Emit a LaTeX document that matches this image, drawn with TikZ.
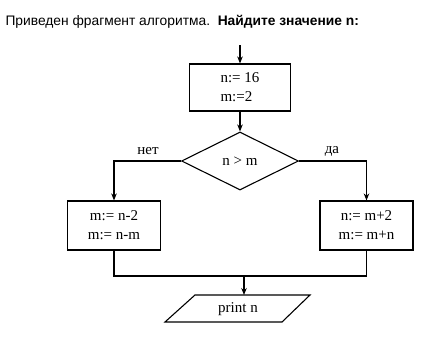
\documentclass[tikz,border=0pt]{standalone}
\usepackage{fontspec}
\setmainfont{Liberation Serif}
\newfontfamily\titlefont{Liberation Sans}
\usetikzlibrary{shapes.geometric,arrows.meta}
\begin{document}
\begin{tikzpicture}[x=1pt,y=-1pt,
  line width=1.1pt,
  arr/.style={-{Stealth[length=7pt,width=5.5pt]}},
  box/.style={draw, minimum width=93pt, minimum height=49pt, inner sep=0pt, font=\fontsize{15}{19}\selectfont, align=center},
  lbl/.style={font=\fontsize{15}{17}\selectfont, inner sep=0pt}]
\useasboundingbox (0,0) rectangle (423,340);
\fill[white] (0,0) rectangle (423,340);
\node[anchor=base west, font=\titlefont\fontsize{13.8}{15}\selectfont, inner sep=0pt] (title) at (5,25) {Приведен фрагмент алгоритма.\ \ \textbf{Найдите значение n:}};
\coordinate (start) at (240,45);
\node[box, align=left, minimum width=101pt, minimum height=47pt] (init) at (240,87.5) {n:= 16\\m:=2};
\node[draw, diamond, aspect=2, minimum width=117pt, minimum height=58pt, inner sep=0pt, font=\fontsize{15}{17}\selectfont] (cond) at (240,161) {n > m};
\node[box] (no) at (114,225.5) {m:= n-2\\m:= n-m};
\node[box] (yes) at (366.5,225.5) {n:= m+2\\m:= m+n};
\node[lbl] (nolbl) at (148,151) {нет};
\node[lbl] (yeslbl) at (332,151) {да};
\coordinate (m) at (244,276);
\coordinate (p1) at (165,322);
\coordinate (p2) at (195,295);
\coordinate (p3) at (310,295);
\coordinate (p4) at (282,322);
\coordinate (outtop) at (244,295);
\node[lbl] (out) at (238,309) {print n};
\draw (p1) -- (p2) -- (p3) -- (p4) -- cycle;
\draw[arr] (start) -- (init);
\draw[arr] (init) -- (cond);
\draw[arr] (cond.west) -| (no);
\draw[arr] (cond.east) -| (yes);
\draw (no.south) |- (m);
\draw (yes.south) |- (m);
\draw[arr] (m) -- (outtop);
\end{tikzpicture}
\end{document}
